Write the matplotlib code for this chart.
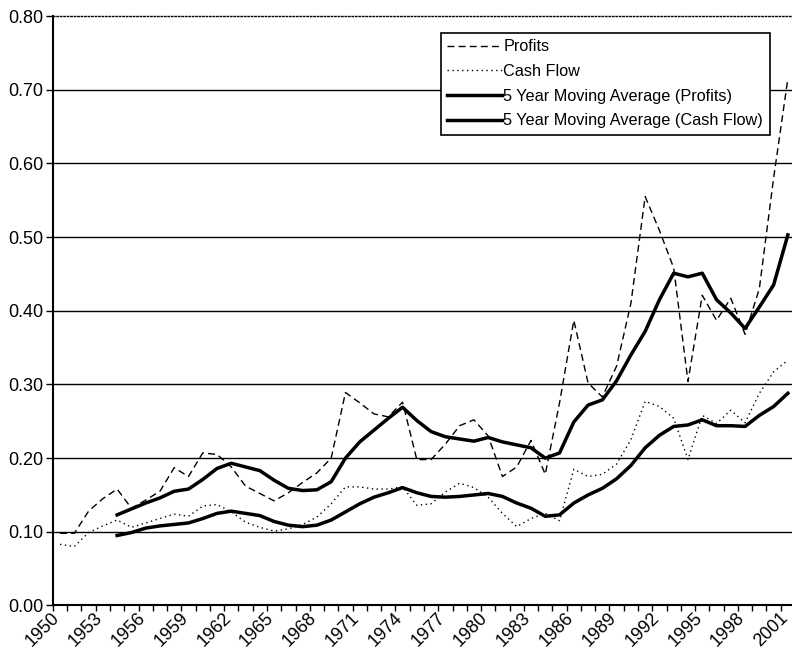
import numpy as np
import matplotlib.pyplot as plt
import matplotlib.transforms as mtransforms
from matplotlib.ticker import FormatStrFormatter

plt.rcParams['font.family'] = ['Liberation Sans', 'DejaVu Sans']

years = list(range(1950, 2002))
profits = [0.098, 0.098, 0.128, 0.145, 0.158, 0.132, 0.143, 0.155, 0.187, 0.175,
           0.207, 0.205, 0.188, 0.162, 0.152, 0.142, 0.153, 0.167, 0.180, 0.200,
           0.289, 0.275, 0.260, 0.256, 0.276, 0.198, 0.198, 0.219, 0.244, 0.252,
           0.230, 0.175, 0.188, 0.224, 0.178, 0.275, 0.387, 0.302, 0.283, 0.325,
           0.410, 0.555, 0.509, 0.458, 0.304, 0.421, 0.387, 0.417, 0.368, 0.430,
           0.580, 0.715]
cash_flow = [0.083, 0.080, 0.099, 0.108, 0.116, 0.106, 0.112, 0.118, 0.124, 0.121,
             0.135, 0.137, 0.127, 0.113, 0.106, 0.101, 0.104, 0.110, 0.120, 0.138,
             0.161, 0.161, 0.158, 0.158, 0.161, 0.136, 0.138, 0.154, 0.166, 0.160,
             0.147, 0.125, 0.107, 0.118, 0.125, 0.115, 0.185, 0.175, 0.178, 0.192,
             0.225, 0.277, 0.270, 0.254, 0.198, 0.258, 0.247, 0.265, 0.248, 0.288,
             0.317, 0.333]

ma_years = list(range(1954, 2002))
ma_profits = [0.123, 0.131, 0.139, 0.146, 0.155, 0.158, 0.171, 0.186, 0.193, 0.188,
              0.183, 0.170, 0.159, 0.156, 0.157, 0.168, 0.200, 0.222, 0.238, 0.254,
              0.269, 0.251, 0.236, 0.229, 0.226, 0.223, 0.228, 0.222, 0.218, 0.214,
              0.200, 0.207, 0.249, 0.272, 0.279, 0.305, 0.340, 0.372, 0.415, 0.451,
              0.446, 0.451, 0.415, 0.397, 0.376, 0.405, 0.435, 0.503]
ma_cash_flow = [0.095, 0.099, 0.105, 0.108, 0.110, 0.112, 0.118, 0.125, 0.128, 0.125,
                0.122, 0.114, 0.109, 0.107, 0.109, 0.116, 0.127, 0.138, 0.147, 0.153,
                0.160, 0.153, 0.148, 0.147, 0.148, 0.150, 0.152, 0.148, 0.139, 0.132,
                0.121, 0.123, 0.139, 0.150, 0.159, 0.172, 0.190, 0.214, 0.231, 0.243,
                0.245, 0.252, 0.244, 0.244, 0.243, 0.258, 0.270, 0.288]

fig = plt.figure(figsize=(7.92, 6.59), dpi=100)
ax = fig.add_axes([0.0668, 0.0812, 0.937, 0.8945])

x = np.arange(len(years))
xm = [years.index(y) for y in ma_years]

ax.plot(x, profits, color='black', lw=1, dashes=(5, 3), label='Profits', zorder=3)
ax.plot(x, cash_flow, color='black', lw=1, dashes=(1, 2.5), label='Cash Flow', zorder=3)
ax.plot(xm, ma_profits, color='black', lw=2.5, label='5 Year Moving Average (Profits)', zorder=4)
ax.plot(xm, ma_cash_flow, color='black', lw=2.5, label='5 Year Moving Average (Cash Flow)', zorder=4)

ax.set_xlim(-0.5, len(years) - 0.5)
ax.set_ylim(0, 0.8)
yt = np.arange(0, 0.81, 0.1)
ax.set_yticks(yt)
ax.yaxis.set_major_formatter(FormatStrFormatter('%.2f'))
for yv in yt[1:-1]:
    ax.axhline(yv, color='black', lw=1, zorder=1)

# x axis: labels every 3 years, tick marks between every category
ax.set_xticks(x[::3])
ax.set_xticklabels([str(y) for y in years[::3]])
ax.set_xticks(np.arange(-0.5, len(years)), minor=True)
ax.tick_params(axis='x', which='major', length=0, pad=7, labelsize=13)
ax.tick_params(axis='x', which='minor', length=4, width=1, direction='out')
ax.tick_params(axis='y', length=5, width=1, direction='out', labelsize=13, pad=2)
shift = mtransforms.ScaledTranslation(-2 / 72, 0, fig.dpi_scale_trans)
for lbl in ax.get_xticklabels():
    lbl.set_rotation(45)
    lbl.set_ha('right')
    lbl.set_va('center')
    lbl.set_rotation_mode('anchor')
    lbl.set_transform(lbl.get_transform() + shift)

ax.spines['right'].set_visible(False)
ax.spines['top'].set_linestyle((0, (1, 1.5)))
ax.spines['top'].set_linewidth(1)
ax.spines['left'].set_linewidth(1.5)
ax.spines['bottom'].set_linewidth(1.5)

leg = ax.legend(loc='upper left', bbox_to_anchor=(0.5226, 0.9717), fontsize=11.7,
                handlelength=3.4, handletextpad=0.05, labelspacing=0.6,
                borderpad=0.4, borderaxespad=0, fancybox=False, framealpha=1,
                edgecolor='black')
leg.get_frame().set_linewidth(1.2)

plt.savefig('out.png', dpi=100)
